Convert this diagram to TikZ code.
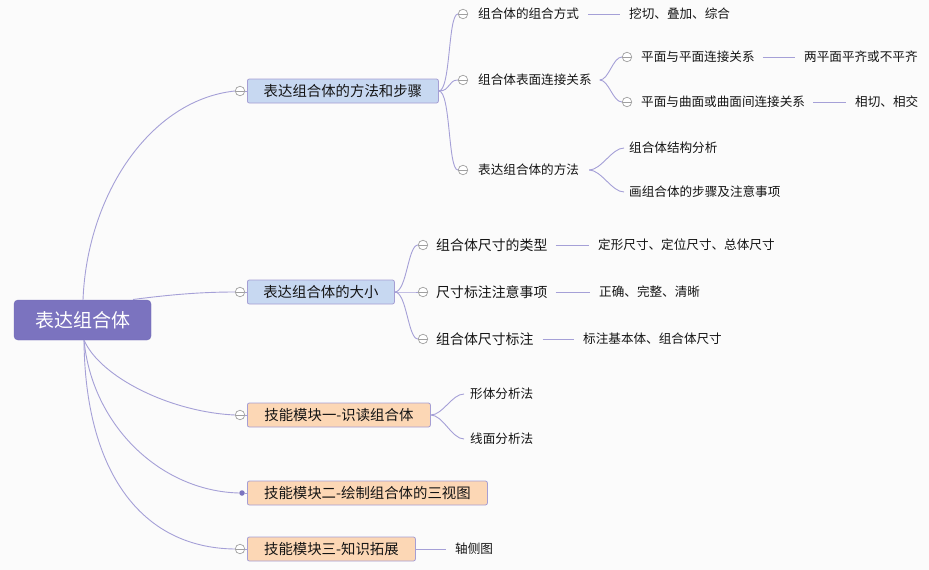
\documentclass[tikz,border=0pt]{standalone}
\usepackage{fontspec}
\newfontfamily\cjk{Noto Sans CJK SC}
\definecolor{lineC}{RGB}{165,160,215}
\definecolor{rootC}{RGB}{123,115,191}
\definecolor{rootD}{RGB}{112,105,182}
\definecolor{blueC}{RGB}{199,216,241}
\definecolor{peachC}{RGB}{252,215,181}
\definecolor{boxD}{RGB}{165,158,212}
\definecolor{circC}{RGB}{160,160,160}
\definecolor{bgC}{RGB}{251,251,251}
\definecolor{txtC}{RGB}{20,20,20}
\begin{document}
\begin{tikzpicture}[x=1pt,y=-1pt,
  font=\cjk\fontsize{12.6}{14}\selectfont, text=txtC,
  conn/.style={draw=lineC, line width=0.9pt},
  rootbox/.style={fill=rootC, draw=rootD, rounded corners=4pt, minimum width=137pt, minimum height=40pt, inner sep=0pt, text=white, font=\cjk\fontsize{19}{22}\selectfont},
  mainbox/.style={draw=boxD, line width=0.8pt, rounded corners=2pt, minimum height=24pt, inner sep=0pt, anchor=west, font=\cjk\fontsize{14.4}{16}\selectfont},
  bluebox/.style={mainbox, fill=blueC},
  peachbox/.style={mainbox, fill=peachC},
  plain/.style={anchor=west, inner sep=0pt},
  bigplain/.style={plain, font=\cjk\fontsize{13.9}{16}\selectfont},
  collapse/.style={circle, draw=circC, fill=white, line width=0.7pt, minimum size=9.5pt, inner sep=0pt,
    path picture={\draw[circC, line width=0.7pt] (path picture bounding box.west) -- (path picture bounding box.east);}},
  dotnode/.style={circle, fill=rootC, minimum size=5.5pt, inner sep=0pt}
]
\fill[bgC] (0,0) rectangle (929,570);
\useasboundingbox (0,0) rectangle (929,570);

% root
\node[rootbox] (root) at (82.5,320) {表达组合体};

% main branches
\node[bluebox, minimum width=191pt] (b1) at (247,91) {表达组合体的方法和步骤};
\node[bluebox, minimum width=147pt] (b2) at (247,292) {表达组合体的大小};
\node[peachbox, minimum width=183pt] (b3) at (247,415) {技能模块一-识读组合体};
\node[peachbox, minimum width=240pt] (b4) at (247,493) {技能模块二-绘制组合体的三视图};
\node[peachbox, minimum width=168pt] (b5) at (247,549) {技能模块三-知识拓展};

\node[collapse] (k1) at (240,91) {};
\node[collapse] (k2) at (240,292) {};
\node[collapse] (k3) at (240,415) {};
\node[dotnode] (k4) at (242,493) {};
\node[collapse] (k5) at (240,549) {};

\coordinate (rt1) at (83,300);
\coordinate (rt2) at (133,299.5);
\coordinate (rb) at (84,340);

\draw[conn] (rt1) .. controls (87,195) and (150,100) .. (k1.west);
\draw[conn] (rt2) .. controls (175,294) and (205,292) .. (k2.west);
\draw[conn] (rb) .. controls (100,377) and (170,412) .. (k3.west);
\draw[conn] (rb) .. controls (92,425) and (160,491) .. (k4.west);
\draw[conn] (rb) .. controls (85,470) and (140,548) .. (k5.west);
\draw[conn] (k1.east) -- (b1.west);
\draw[conn] (k2.east) -- (b2.west);
\draw[conn] (k3.east) -- (b3.west);
\draw[conn] (k4.east) -- (b4.west);
\draw[conn] (k5.east) -- (b5.west);

% branch 1 children
\node[collapse] (c11) at (463,14) {};
\node[collapse] (c12) at (463,80) {};
\node[collapse] (c13) at (463,170) {};
\node[plain] (t11) at (478,14) {组合体的组合方式};
\node[plain] (t12) at (478,80) {组合体表面连接关系};
\node[plain] (t13) at (478,170) {表达组合体的方法};
\foreach \c in {c11,c12,c13}
  \draw[conn] (b1.east) .. controls +(12,0) and +(-10,0) .. (\c.west);

\node[plain] (u11) at (629,14) {挖切、叠加、综合};
\draw[conn] ([xshift=9pt]t11.east) -- ([xshift=-9pt]u11.west);

% 组合体表面连接关系
\coordinate (f12) at ([xshift=8pt]t12.east);
\node[collapse] (c121) at (627,57) {};
\node[collapse] (c122) at (627,102) {};
\draw[conn] (f12) .. controls +(9,0) and +(-9,0) .. (c121.west);
\draw[conn] (f12) .. controls +(9,0) and +(-9,0) .. (c122.west);
\node[plain] (t121) at (641,57) {平面与平面连接关系};
\node[plain] (t122) at (641,102) {平面与曲面或曲面间连接关系};
\node[plain] (u121) at (804,57) {两平面平齐或不平齐};
\node[plain] (u122) at (855,102) {相切、相交};
\draw[conn] ([xshift=8pt]t121.east) -- ([xshift=-9pt]u121.west);
\draw[conn] ([xshift=8pt]t122.east) -- ([xshift=-9pt]u122.west);

% 表达组合体的方法
\coordinate (f13) at ([xshift=10pt]t13.east);
\node[plain] (t131) at (629,148) {组合体结构分析};
\node[plain] (t132) at (629,192) {画组合体的步骤及注意事项};
\draw[conn] (f13) .. controls +(12,0) and +(-12,0) .. ([xshift=-5pt]t131.west);
\draw[conn] (f13) .. controls +(12,0) and +(-12,0) .. ([xshift=-5pt]t132.west);

% branch 2 children
\node[collapse] (c21) at (423,245) {};
\node[collapse] (c22) at (423,292) {};
\node[collapse] (c23) at (423,339) {};
\foreach \c in {c21,c22,c23}
  \draw[conn] (b2.east) .. controls +(12,0) and +(-10,0) .. (\c.west);
\node[bigplain] (t21) at (436,245) {组合体尺寸的类型};
\node[bigplain] (t22) at (436,292) {尺寸标注注意事项};
\node[bigplain] (t23) at (436,339) {组合体尺寸标注};
\node[plain] (u21) at (598,245) {定形尺寸、定位尺寸、总体尺寸};
\node[plain] (u22) at (599,292) {正确、完整、清晰};
\node[plain] (u23) at (583,339) {标注基本体、组合体尺寸};
\draw[conn] ([xshift=8pt]t21.east) -- ([xshift=-9pt]u21.west);
\draw[conn] ([xshift=8pt]t22.east) -- ([xshift=-9pt]u22.west);
\draw[conn] ([xshift=9pt]t23.east) -- ([xshift=-9pt]u23.west);

% branch 3 children
\node[plain] (t31) at (470,394) {形体分析法};
\node[plain] (t32) at (470,439) {线面分析法};
\draw[conn] (b3.east) .. controls +(12,0) and +(-12,0) .. ([xshift=-6pt]t31.west);
\draw[conn] (b3.east) .. controls +(12,0) and +(-12,0) .. ([xshift=-6pt]t32.west);

% branch 5 child
\node[plain] (t51) at (455,549) {轴侧图};
\draw[conn] (b5.east) -- ([xshift=-9pt]t51.west);
\end{tikzpicture}
\end{document}
